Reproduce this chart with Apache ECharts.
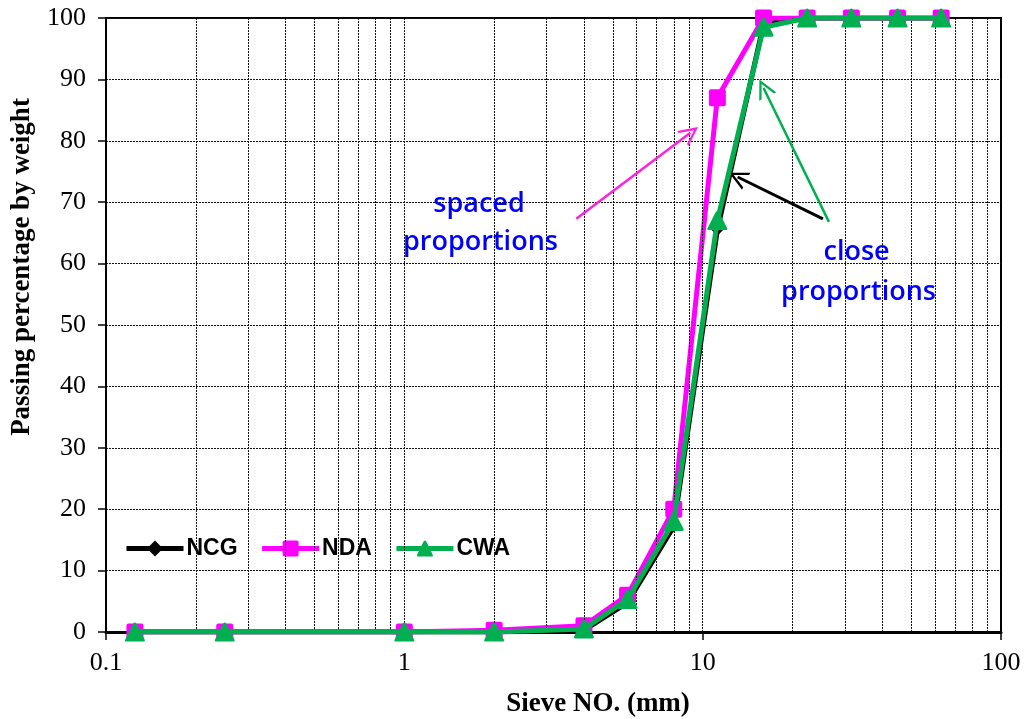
<!DOCTYPE html>
<html><head><meta charset="utf-8">
<script src="https://cdn.jsdelivr.net/npm/echarts@6/dist/echarts.min.js"></script>
<style>html,body{margin:0;padding:0;background:#fff}#c{width:1030px;height:719px}</style>
</head><body><div id="c"></div>
<script>
const sieves = [0.125, 0.25, 1, 2, 4, 5.6, 8, 11.2, 16, 22.4, 31.5, 45, 63];
const ncg = [0, 0, 0, 0, 0.3, 4.8, 17.2, 65.5, 99, 100, 100, 100, 100];
const nda = [0, 0, 0, 0.3, 1, 6, 20, 87, 100, 100, 100, 100, 100];
const cwa = [0, 0, 0, 0, 0.5, 5.3, 18, 67, 98.5, 100, 100, 100, 100];
const xTickLabels = ['0.1', '1', '10', '100'];
const minorGridX = [0.2,0.3,0.4,0.5,0.6,0.7,0.8,0.9,2,3,4,5,6,7,8,9,20,30,40,50,60,70,80,90];
const majorGridX = [1, 10];
// annotation arrows [x1,y1,x2,y2] in data units
const arrowSpaced = [3.77, 67.3, 9.1, 81.3];
const arrowCloseBlack = [25.3, 67.3, 13.1, 74.1];
const arrowCloseGreen = [26.5, 66.8, 16.0, 88.6];
// annotation texts [text, x, y] in data units
const notes = [['spaced', 1.78, 69.6], ['proportions', 1.8, 63.5], ['close', 32.8, 61.8], ['proportions', 33.3, 55.4]];

const chart = echarts.init(document.getElementById('c'), null, {renderer: 'canvas'});
const pair = a => sieves.map((s, i) => [s, a[i]]);
const chevron = 'path://M5,0 L10,12 L8.6,12 L5,3.2 L1.4,12 L0,12 Z';
function arrow(a, color, w) {
  return {
    silent: true, symbol: ['none', chevron], symbolSize: [19, 19],
    label: {show: false},
    lineStyle: {color: color, width: w, type: 'solid'},
    data: [[{coord: [a[0], a[1]]}, {coord: [a[2], a[3]]}]]
  };
}
const gridLineStyle = {color: '#111', width: 1, type: [2, 1]};
const vLines = minorGridX.concat(majorGridX).map(v => ({xAxis: v}));
const serif = 'Liberation Serif';

chart.setOption({
  animation: false,
  grid: {left: 106, right: 29, top: 18, bottom: 87, show: true, borderColor: '#000', borderWidth: 2},
  legend: {
    left: 119, top: 532, itemWidth: 57, itemHeight: 20, itemGap: 22,
    lineStyle: {width: 5},
    textStyle: {fontFamily: 'Liberation Sans', fontWeight: 'bold', fontSize: 23, color: '#000', padding: [0, 0, 0, -2]},
    data: ['NCG', 'NDA', 'CWA']
  },
  xAxis: {
    type: 'log', logBase: 10, min: 0.1, max: 100,
    axisLine: {lineStyle: {color: '#000', width: 3}},
    axisTick: {show: true, inside: false, length: 8, lineStyle: {color: '#000', width: 1.5}},
    axisLabel: {fontFamily: serif, fontSize: 26, color: '#000', margin: 18,
      formatter: v => { const s = String(+(+v).toPrecision(3)); return xTickLabels.includes(s) ? s : ''; }},
    splitLine: {show: false}, minorTick: {show: false}, minorSplitLine: {show: false}
  },
  yAxis: {
    type: 'value', min: 0, max: 100, interval: 10,
    axisLine: {show: true, lineStyle: {color: '#000', width: 2}},
    axisTick: {show: true, inside: false, length: 8, lineStyle: {color: '#000', width: 1.5}},
    axisLabel: {fontFamily: serif, fontSize: 26, color: '#000', margin: 20},
    splitLine: {show: true, lineStyle: gridLineStyle}
  },
  series: [
    {type: 'line', name: '_grid', data: [], silent: true,
     markLine: {silent: true, symbol: 'none', label: {show: false}, lineStyle: gridLineStyle, data: vLines}},
    {type: 'line', name: 'NCG', data: pair(ncg), color: '#000', symbol: 'diamond', symbolSize: 12,
     lineStyle: {width: 5, color: '#000'}, itemStyle: {color: '#000'}, z: 3,
     markLine: arrow(arrowCloseBlack, '#000', 3)},
    {type: 'line', name: 'NDA', data: pair(nda), color: '#FF00FF', symbol: 'path://M2,0 L14,0 Q16,0 16,2 L16,14 Q16,16 14,16 L2,16 Q0,16 0,14 L0,2 Q0,0 2,0 Z', symbolSize: 17,
     lineStyle: {width: 5, color: '#FF00FF'}, itemStyle: {color: '#FF00FF'}, z: 4,
     markLine: arrow(arrowSpaced, '#FF22DD', 2.5)},
    {type: 'line', name: 'CWA', data: pair(cwa), color: '#00B050', symbol: 'path://M8,0 Q9,0 10,2 L16,14 Q17,16 15,16 L1,16 Q-1,16 0,14 L6,2 Q7,0 8,0 Z', symbolSize: [20, 19],
     lineStyle: {width: 5, color: '#00B050'}, itemStyle: {color: '#00B050'}, z: 5,
     markLine: arrow(arrowCloseGreen, '#00B050', 2.5)}
  ]
});
function place() {
  const g = notes.map(n => {
    const p = chart.convertToPixel({xAxisIndex: 0, yAxisIndex: 0}, [n[1], n[2]]);
    return {type: 'text', x: p[0], y: p[1], z: 10,
      style: {text: n[0], fill: '#0000FF', fontFamily: 'Open Sans', fontWeight: 600, fontSize: 27, align: 'center', verticalAlign: 'middle'}};
  });
  g.push({type: 'text', x: 22, y: 267, rotation: Math.PI / 2,
    style: {text: 'Passing percentage by weight', fill: '#000', fontFamily: serif, fontWeight: 'bold', fontSize: 27, align: 'center', verticalAlign: 'middle'}});
  g.push({type: 'text', x: 598, y: 704,
    style: {text: 'Sieve NO. (mm)', fill: '#000', fontFamily: serif, fontWeight: 'bold', fontSize: 27, align: 'center', verticalAlign: 'middle'}});
  chart.setOption({graphic: g});
}
place();
</script></body></html>
